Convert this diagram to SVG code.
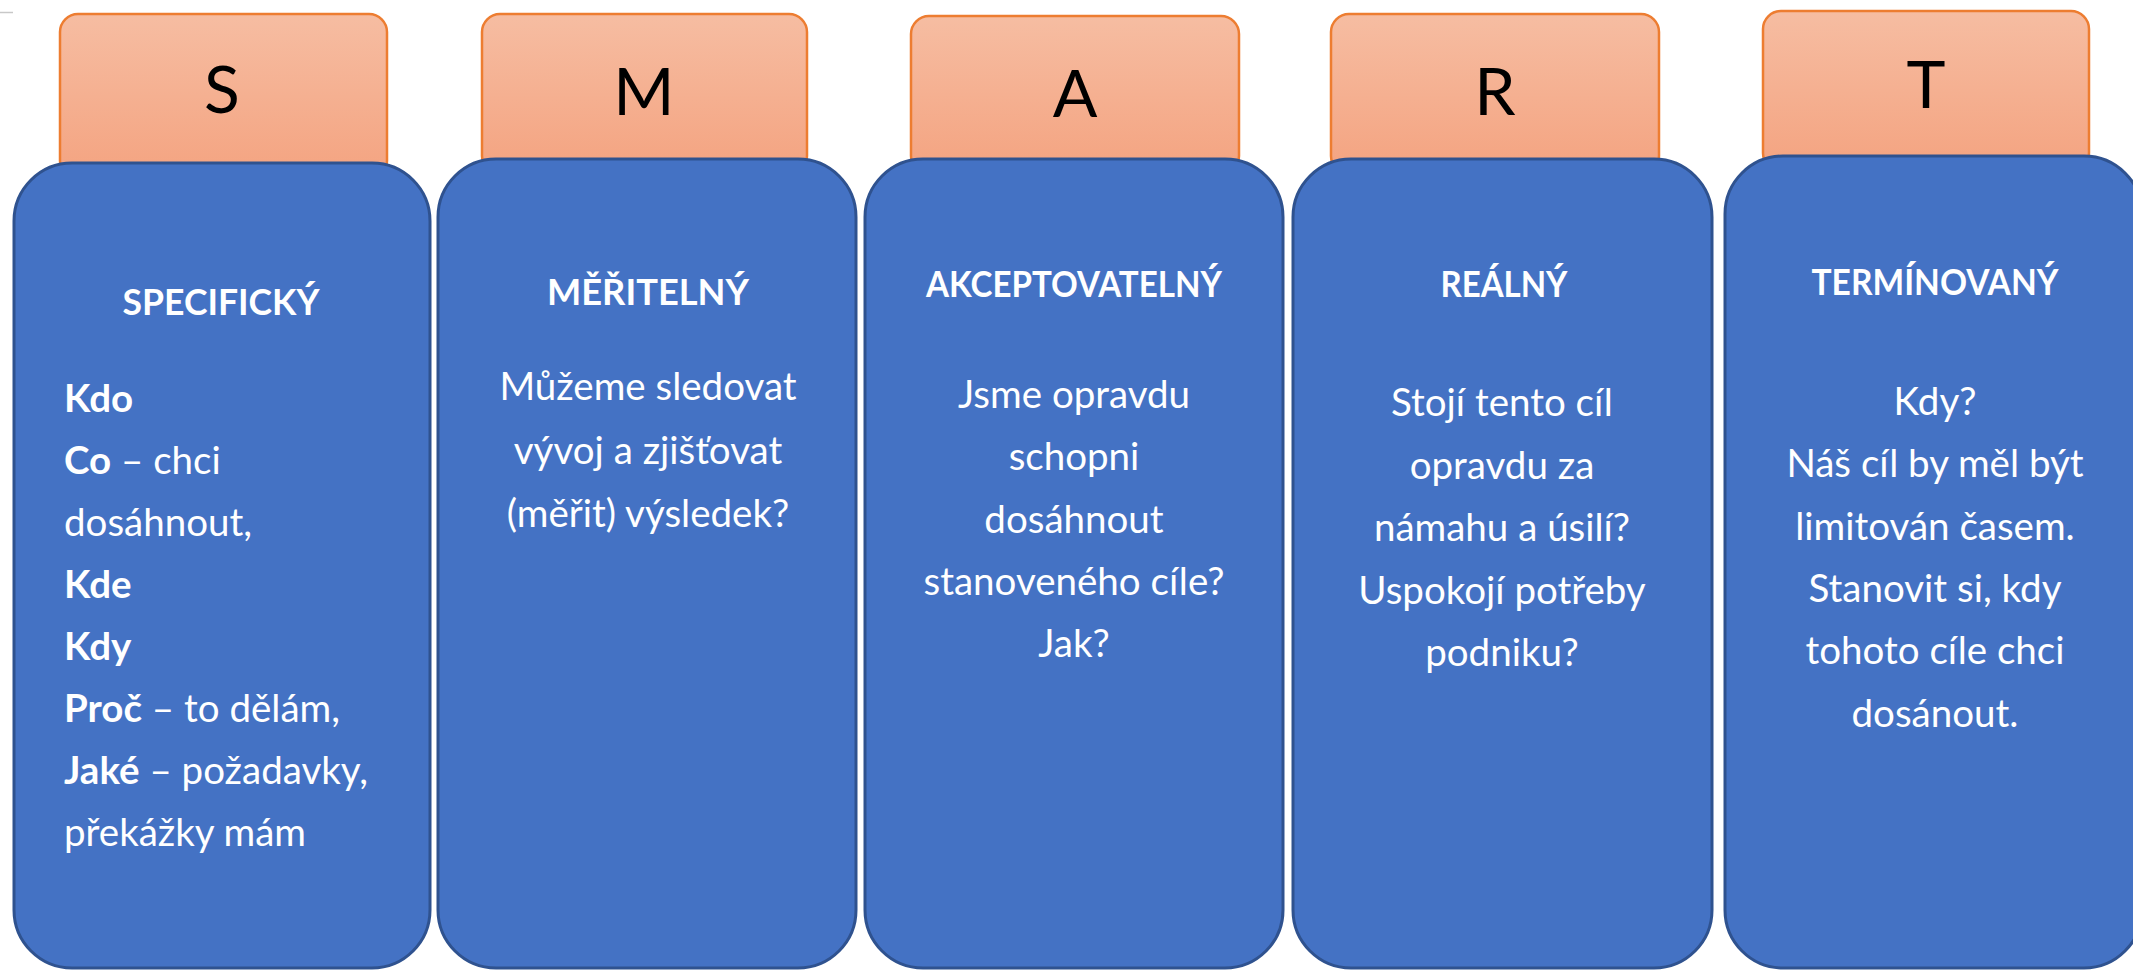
<svg xmlns="http://www.w3.org/2000/svg" width="2133" height="971" viewBox="0 0 2133 971">
<defs>
<linearGradient id="tabGrad" x1="0" y1="0" x2="0" y2="1">
<stop offset="0" stop-color="#F6BDA2"/>
<stop offset="1" stop-color="#F4A380"/>
</linearGradient>
<style>
.tab{fill:url(#tabGrad);stroke:#ED7D31;stroke-width:2.5}
.box{fill:#4472C4;stroke:#2F528F;stroke-width:3}
.letter{font-family:Lato,"Liberation Sans",sans-serif;font-size:66px;fill:#000;text-anchor:middle}
.head{font-family:Lato,"Liberation Sans",sans-serif;font-size:37px;font-weight:bold;fill:#fff;text-anchor:middle}
.body{font-family:Lato,"Liberation Sans",sans-serif;font-size:38.5px;fill:#fff;text-anchor:middle}
.left{text-anchor:start}
.b{font-weight:bold}
</style>
</defs>
<rect width="2133" height="971" fill="#fff"/>
<line x1="0" y1="12.5" x2="13" y2="12.5" stroke="#c8c8c8" stroke-width="1.5"/>
<g id="connectors"/>
<g id="node-S">
<rect class="tab" x="60" y="14" width="327" height="165" rx="18"/>
<rect class="box" x="14" y="163" width="416" height="805" rx="58"/>
<text class="letter" x="222" y="113">S</text>
<text class="head" x="221" y="315" textLength="197" lengthAdjust="spacingAndGlyphs">SPECIFICKÝ</text>
<text class="body left" x="64"><tspan x="64" y="412" class="b">Kdo</tspan><tspan x="64" y="474"><tspan class="b">Co</tspan> – chci</tspan><tspan x="64" y="536">dosáhnout,</tspan><tspan x="64" y="598" class="b">Kde</tspan><tspan x="64" y="660" class="b">Kdy</tspan><tspan x="64" y="722"><tspan class="b">Proč</tspan> – to dělám,</tspan><tspan x="64" y="784"><tspan class="b">Jaké</tspan> – požadavky,</tspan><tspan x="64" y="846">překážky mám</tspan></text>
</g>
<g id="node-M">
<rect class="tab" x="482" y="14" width="325" height="160" rx="18"/>
<rect class="box" x="438" y="159" width="418" height="809" rx="58"/>
<text class="letter" x="644" y="115">M</text>
<text class="head" x="648" y="305" textLength="202" lengthAdjust="spacingAndGlyphs">MĚŘITELNÝ</text>
<text class="body"><tspan x="648" y="400">Můžeme sledovat</tspan><tspan x="648" y="464">vývoj a zjišťovat</tspan><tspan x="648" y="527">(měřit) výsledek?</tspan></text>
</g>
<g id="node-A">
<rect class="tab" x="911" y="16" width="328" height="158" rx="18"/>
<rect class="box" x="865" y="159" width="418" height="809" rx="58"/>
<text class="letter" x="1075" y="117">A</text>
<text class="head" x="1074" y="297" textLength="296" lengthAdjust="spacingAndGlyphs">AKCEPTOVATELNÝ</text>
<text class="body"><tspan x="1074" y="408">Jsme opravdu</tspan><tspan x="1074" y="470">schopni</tspan><tspan x="1074" y="533">dosáhnout</tspan><tspan x="1074" y="595">stanoveného cíle?</tspan><tspan x="1074" y="657">Jak?</tspan></text>
</g>
<g id="node-R">
<rect class="tab" x="1331" y="14" width="328" height="160" rx="18"/>
<rect class="box" x="1293" y="159" width="419" height="809" rx="58"/>
<text class="letter" x="1495" y="115">R</text>
<text class="head" x="1504" y="297" textLength="127" lengthAdjust="spacingAndGlyphs">REÁLNÝ</text>
<text class="body"><tspan x="1502" y="416">Stojí tento cíl</tspan><tspan x="1502" y="479">opravdu za</tspan><tspan x="1502" y="541">námahu a úsilí?</tspan><tspan x="1502" y="604">Uspokojí potřeby</tspan><tspan x="1502" y="666">podniku?</tspan></text>
</g>
<g id="node-T">
<rect class="tab" x="1763" y="11" width="326" height="160" rx="18"/>
<rect class="box" x="1725" y="156" width="417" height="812" rx="58"/>
<text class="letter" x="1926" y="108">T</text>
<text class="head" x="1935" y="295" textLength="247" lengthAdjust="spacingAndGlyphs">TERMÍNOVANÝ</text>
<text class="body"><tspan x="1935" y="415">Kdy?</tspan><tspan x="1935" y="477">Náš cíl by měl být</tspan><tspan x="1935" y="540">limitován časem.</tspan><tspan x="1935" y="602">Stanovit si, kdy</tspan><tspan x="1935" y="664">tohoto cíle chci</tspan><tspan x="1935" y="727">dosánout.</tspan></text>
</g>
</svg>
